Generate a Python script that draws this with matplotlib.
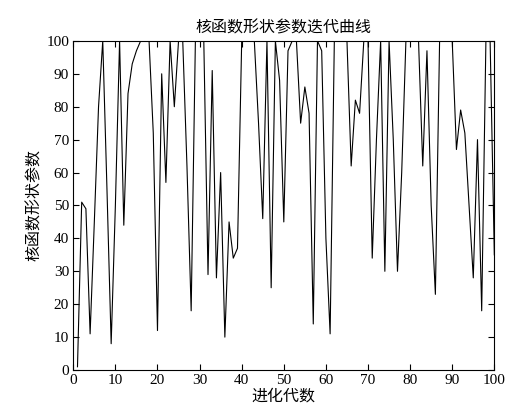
import matplotlib
matplotlib.use("Agg")
from matplotlib import pyplot as plt

# generations 1..100 and the shape parameter
generations = list(range(1, 101))
shape_param = [
    1, 51, 49, 11, 45, 80, 100, 55, 8, 50,
    100, 44, 84, 93, 97, 100, 100, 100, 72, 12,
    90, 57, 100, 80, 100, 100, 62, 18, 100, 100,
    100, 29, 91, 28, 60, 10, 45, 34, 37, 100,
    100, 100, 100, 75, 46, 100, 25, 100, 88, 45,
    97, 100, 100, 75, 86, 78, 14, 100, 97, 40,
    11, 100, 100, 100, 100, 62, 82, 78, 100, 100,
    34, 70, 100, 30, 100, 70, 30, 60, 100, 100,
    100, 100, 62, 97, 50, 23, 100, 100, 100, 100,
    67, 79, 72, 50, 28, 70, 18, 100, 100, 35,
]
ticks = list(range(0, 101, 10))

title = "核函数形状参数迭代曲线"
xlabel = "进化代数"
ylabel = "核函数形状参数"

plt.rcParams['font.family'] = ['Liberation Serif', 'Noto Sans CJK SC']

fig = plt.figure(figsize=(5.16, 4.13), dpi=100)
ax = fig.add_axes([0.142, 0.104, 0.816, 0.797])

ax.plot(generations, shape_param, color="black", linewidth=0.8)

ax.set_xlim(0, 100)
ax.set_ylim(0, 100)
ax.set_xticks(ticks)
ax.set_yticks(ticks)
ax.tick_params(direction="in", length=4, width=0.8, top=True, right=True,
               labelsize=11, pad=3)

cjk = ['Noto Sans CJK SC', 'DejaVu Sans']
ax.set_title(title, family=cjk, fontsize=11.5, pad=6)
ax.set_xlabel(xlabel, family=cjk, fontsize=11.5, labelpad=0)
ax.set_ylabel(ylabel, family=cjk, fontsize=11.5, labelpad=2)

for s in ax.spines.values():
    s.set_linewidth(0.8)

fig.savefig("out.png", dpi=100)
